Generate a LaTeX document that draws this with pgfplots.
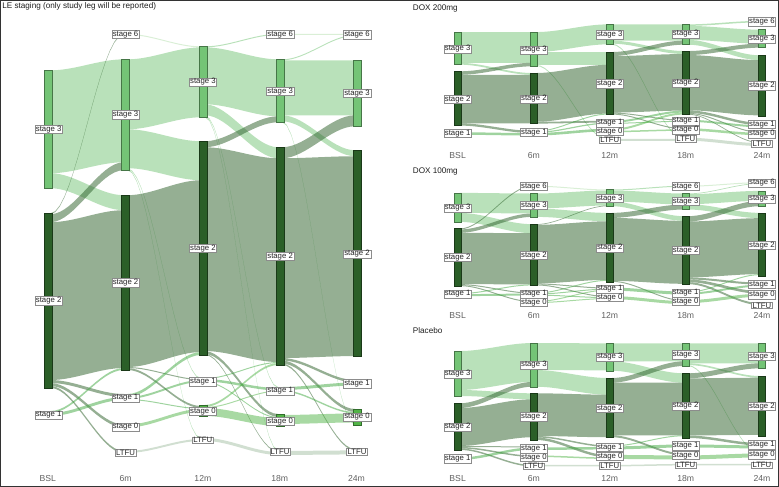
\documentclass[border=0pt]{standalone}
\usepackage{pgfplots}
\pgfplotsset{compat=1.18}
\usepackage{fontspec}
\setmainfont{Liberation Sans}
\definecolor{c6}{HTML}{B5DFAE}
\definecolor{c3}{HTML}{74C476}
\definecolor{c2}{HTML}{2B5F28}
\definecolor{c1}{HTML}{3FA83F}
\definecolor{c0}{HTML}{52B447}
\definecolor{cL}{HTML}{A3BFA3}
\def\hw{4}
% flow: x-centre left, x-centre right, top/bottom at left, top/bottom at right, colour
\newcommand\flow[7]{%
  \gdef\fpts{}%
  \foreach \i in {0,...,16}{%
    \pgfmathsetmacro\ft{\i/16}%
    \pgfmathsetmacro\fs{\ft*\ft*(3-2*\ft)}%
    \pgfmathsetmacro\fx{#1+2+(#2-#1-4)*\ft}%
    \pgfmathsetmacro\fy{#3+(#5-#3)*\fs}%
    \xdef\fpts{\fpts(\fx,\fy)}}%
  \foreach \i in {16,...,0}{%
    \pgfmathsetmacro\ft{\i/16}%
    \pgfmathsetmacro\fs{\ft*\ft*(3-2*\ft)}%
    \pgfmathsetmacro\fx{#1+2+(#2-#1-4)*\ft}%
    \pgfmathsetmacro\fy{#4+(#6-#4)*\fs}%
    \xdef\fpts{\fpts(\fx,\fy)}}%
  \edef\next{\noexpand\addplot[draw=none,fill=#7,fill opacity=0.5,forget plot] coordinates {\fpts} -- cycle;}\next}
% node bar: x-centre, top, bottom, colour
\newcommand\nb[4]{%
  \pgfmathsetmacro\bl{#1-\hw}\pgfmathsetmacro\br{#1+\hw}%
  \edef\next{\noexpand\addplot[fill=#4,draw=#4!60!black,line width=0.4pt,forget plot] coordinates {(\bl,#2)(\br,#2)(\br,#3)(\bl,#3)} -- cycle;}\next}
\pgfplotsset{
  lbl/.style={only marks, mark=text, text mark={},
    point meta=explicit symbolic, nodes near coords, forget plot,
    every node near coord/.append style={anchor=center, draw=black!45, fill=white, line width=0.4pt,
      inner xsep=1pt, inner ysep=0.6pt, font=\fontsize{7.8}{8}\selectfont, text=black!85}},
  tlbl/.style={only marks, mark=text, text mark={},
    point meta=explicit symbolic, nodes near coords, forget plot,
    every node near coord/.append style={anchor=center, inner sep=0pt,
      font=\fontsize{8.7}{9}\selectfont, text=black!62}},
  ttl/.style={only marks, mark=text, text mark={},
    point meta=explicit symbolic, nodes near coords, forget plot,
    every node near coord/.append style={anchor=west, inner sep=0pt,
      font=\fontsize{8.2}{9}\selectfont, text=black!88}},
}
\begin{document}
\begin{tikzpicture}
\begin{axis}[width=779bp,height=486bp,scale only axis,xmin=0,xmax=779,ymin=0,ymax=486,
  y dir=reverse,xtick=\empty,ytick=\empty,clip=false,
  axis line style={draw=black!80,line width=0.8pt}]
%================ LEFT PANEL ================
\def\hw{4}
% BSL -> 6m
\flow{48.3}{125.3}{70}{173}{59}{162}{c3}
\flow{48.3}{125.3}{173}{188}{195}{210}{c3}
\flow{48.3}{125.3}{213}{214}{33.5}{34.5}{c2}
\flow{48.3}{125.3}{214}{222}{162}{170}{c2}
\flow{48.3}{125.3}{222}{380}{210}{368}{c2}
\flow{48.3}{125.3}{380}{383}{394}{397}{c2}
\flow{48.3}{125.3}{383}{386}{424.5}{427.5}{c2}
\flow{48.3}{125.3}{386}{388}{451}{453}{c2}
\flow{48.3}{125.3}{411}{413}{368}{370}{c1}
\flow{48.3}{125.3}{413}{416}{397}{400}{c1}
% 6m -> 12m
\flow{125.3}{202.7}{33.5}{34.5}{46}{47}{c6}
\flow{125.3}{202.7}{59}{129}{47}{117}{c3}
\flow{125.3}{202.7}{129}{168}{141}{180}{c3}
\flow{125.3}{202.7}{168}{169}{378}{379}{c3}
\flow{125.3}{202.7}{169}{170}{438}{439}{c3}
\flow{125.3}{202.7}{195}{367}{180}{352}{c2}
\flow{125.3}{202.7}{367}{368}{379}{380}{c2}
\flow{125.3}{202.7}{368}{370}{406}{408}{c2}
\flow{125.3}{202.7}{394}{397}{352}{355}{c1}
\flow{125.3}{202.7}{397}{399}{380}{382}{c1}
\flow{125.3}{202.7}{399}{400}{408}{409}{c1}
\flow{125.3}{202.7}{424.5}{427.5}{409}{412}{c0}
\flow{125.3}{202.7}{451}{453}{439}{441}{cL}
% 12m -> 18m
\flow{202.7}{280}{46}{47}{33.5}{34.5}{c3}
\flow{202.7}{280}{47}{104}{59}{116}{c3}
\flow{202.7}{280}{104}{115}{147}{158}{c3}
\flow{202.7}{280}{115}{116}{387}{388}{c3}
\flow{202.7}{280}{116}{117}{450}{451}{c3}
\flow{202.7}{280}{141}{147}{116}{122}{c2}
\flow{202.7}{280}{147}{351}{158}{362}{c2}
\flow{202.7}{280}{351}{354}{414}{417}{c2}
\flow{202.7}{280}{354}{355}{451}{452}{c2}
\flow{202.7}{280}{378}{379}{362}{363}{c1}
\flow{202.7}{280}{379}{381.5}{388}{390.5}{c1}
\flow{202.7}{280}{381.5}{382.5}{417}{418}{c1}
\flow{202.7}{280}{405}{407}{363}{365}{c0}
\flow{202.7}{280}{407}{408}{390.5}{391.5}{c0}
\flow{202.7}{280}{408}{416}{418}{426}{c0}
\flow{202.7}{280}{438}{441}{452}{455}{cL}
% 18m -> 24m
\flow{280}{357}{33.5}{34.5}{33.5}{34.5}{c6}
\flow{280}{357}{59}{60}{34.5}{35.5}{c3}
\flow{280}{357}{60}{115}{60}{115}{c3}
\flow{280}{357}{115}{121}{150}{156}{c3}
\flow{280}{357}{121}{122}{424}{425}{c3}
\flow{280}{357}{147}{158}{115}{126}{c2}
\flow{280}{357}{158}{358}{156}{356}{c2}
\flow{280}{357}{358}{360.5}{380}{382.5}{c2}
\flow{280}{357}{360.5}{363.5}{409}{412}{c2}
\flow{280}{357}{363.5}{365}{449}{450.5}{c2}
\flow{280}{357}{387}{390}{382.5}{385.5}{c1}
\flow{280}{357}{390}{391.5}{412}{413.5}{c1}
\flow{280}{357}{415}{424}{413.5}{422.5}{c0}
\flow{280}{357}{451}{455}{450.5}{454.5}{cL}
% nodes
\nb{48.3}{70}{188}{c3}\nb{48.3}{213}{388}{c2}\nb{48.3}{411}{416}{c1}
\nb{125.3}{33.5}{34.5}{c6}\nb{125.3}{59}{170}{c3}\nb{125.3}{195}{370}{c2}\nb{125.3}{394}{400}{c1}\nb{125.3}{424.5}{427.5}{c0}\nb{125.3}{451}{453}{cL}
\nb{202.7}{46}{117}{c3}\nb{202.7}{141}{355}{c2}\nb{202.7}{378}{382.5}{c1}\nb{202.7}{405}{416}{c0}\nb{202.7}{438}{441}{cL}
\nb{280}{33.5}{34.5}{c6}\nb{280}{59}{122}{c3}\nb{280}{147}{365}{c2}\nb{280}{387}{391.5}{c1}\nb{280}{414}{426}{c0}\nb{280}{450}{455}{cL}
\nb{357}{33.5}{35.5}{c6}\nb{357}{60}{126}{c3}\nb{357}{150}{356}{c2}\nb{357}{380}{386}{c1}\nb{357}{409}{425}{c0}\nb{357}{449}{454.5}{cL}
%================ DOX 200mg ================
\def\hw{3.5}
\flow{457.7}{534}{31.7}{62.5}{31.7}{62.5}{c3}
\flow{457.7}{534}{62.5}{64.3}{72.7}{74.5}{c3}
\flow{457.7}{534}{71}{74.5}{62.5}{66}{c2}
\flow{457.7}{534}{74.5}{123}{74.5}{123}{c2}
\flow{457.7}{534}{123}{125.3}{130.5}{132.8}{c2}
\flow{457.7}{534}{132}{134.5}{132.8}{135.3}{c1}
\flow{534}{610}{31.7}{51.7}{24}{44}{c3}
\flow{534}{610}{51.7}{64.5}{51.7}{64.5}{c3}
\flow{534}{610}{64.5}{65.5}{138.5}{139.5}{c3}
\flow{534}{610}{72.7}{121.5}{64.5}{113.3}{c2}
\flow{534}{610}{121.5}{123.3}{120.5}{122.3}{c2}
\flow{534}{610}{130.5}{131.5}{113.3}{114.3}{c1}
\flow{534}{610}{131.5}{132.7}{122.3}{123.5}{c1}
\flow{534}{610}{132.7}{135.3}{128.5}{131.1}{c1}
\flow{610}{686}{24}{40.3}{24}{40.3}{c3}
\flow{610}{686}{40.3}{43.3}{50.7}{53.7}{c3}
\flow{610}{686}{43.3}{44.3}{137.5}{138.5}{c3}
\flow{610}{686}{51.7}{55.7}{40.3}{44.3}{c2}
\flow{610}{686}{55.7}{112.3}{53.7}{110.3}{c2}
\flow{610}{686}{112.3}{113.3}{119.5}{120.5}{c2}
\flow{610}{686}{113.3}{114.3}{128}{129}{c2}
\flow{610}{686}{120.5}{122.5}{110.3}{112.3}{c1}
\flow{610}{686}{122.5}{123.5}{120.5}{121.5}{c1}
\flow{610}{686}{128.5}{130.5}{112.3}{114.3}{c0}
\flow{610}{686}{130.5}{132}{129}{130.5}{c0}
\flow{610}{686}{138.5}{140.5}{138.5}{140.5}{cL}
\flow{686}{762.3}{24}{25.5}{20.5}{22}{c3}
\flow{686}{762.3}{25.5}{39.5}{29.3}{43.3}{c3}
\flow{686}{762.3}{39.5}{44.3}{55}{59.8}{c3}
\flow{686}{762.3}{50.7}{54.7}{43.3}{47.3}{c2}
\flow{686}{762.3}{54.7}{110}{59.8}{115.1}{c2}
\flow{686}{762.3}{110}{112.5}{122.5}{125}{c2}
\flow{686}{762.3}{112.5}{113.5}{131.5}{132.5}{c2}
\flow{686}{762.3}{113.5}{114.3}{142}{142.8}{c2}
\flow{686}{762.3}{119.5}{121.5}{125}{127}{c1}
\flow{686}{762.3}{128}{130.5}{132.5}{135}{c0}
\flow{686}{762.3}{137.5}{140.5}{142.8}{145.8}{cL}
\nb{457.7}{31.7}{64.3}{c3}\nb{457.7}{71}{125.3}{c2}\nb{457.7}{132}{134.5}{c1}
\nb{534}{31.7}{66}{c3}\nb{534}{72.7}{123.3}{c2}\nb{534}{130.5}{135.3}{c1}
\nb{610}{24}{44.3}{c3}\nb{610}{51.7}{114.3}{c2}\nb{610}{120.5}{123.5}{c1}\nb{610}{128.5}{132}{c0}\nb{610}{138.5}{140.5}{cL}
\nb{686}{24}{44.3}{c3}\nb{686}{50.7}{114.3}{c2}\nb{686}{119.5}{121.5}{c1}\nb{686}{128}{130.5}{c0}\nb{686}{137.5}{140.5}{cL}
\nb{762.3}{20.5}{22}{c6}\nb{762.3}{29.3}{47.3}{c3}\nb{762.3}{55}{116}{c2}\nb{762.3}{122.5}{127}{c1}\nb{762.3}{131.5}{135}{c0}\nb{762.3}{142}{145.8}{cL}
%================ DOX 100mg ================
\flow{457.7}{534}{192.7}{212.7}{193.3}{213.3}{c3}
\flow{457.7}{534}{212.7}{221.7}{224}{233}{c3}
\flow{457.7}{534}{228.3}{229.3}{185.5}{186.5}{c2}
\flow{457.7}{534}{229.3}{232.7}{213.3}{216.7}{c2}
\flow{457.7}{534}{232.7}{284}{233}{284.3}{c2}
\flow{457.7}{534}{284}{285}{292.5}{293.5}{c2}
\flow{457.7}{534}{285}{286}{301}{302}{c2}
\flow{457.7}{534}{293}{294}{284.3}{285.3}{c1}
\flow{457.7}{534}{294}{296}{293.5}{295.5}{c1}
\flow{534}{610}{185.5}{186.5}{189.3}{190.3}{c6}
\flow{534}{610}{193.3}{208.3}{190.3}{205.3}{c3}
\flow{534}{610}{208.3}{216.7}{212.7}{221.1}{c3}
\flow{534}{610}{224}{224.7}{205.3}{206}{c2}
\flow{534}{610}{224.7}{283.3}{221.1}{279.7}{c2}
\flow{534}{610}{283.3}{284.3}{287.5}{288.5}{c2}
\flow{534}{610}{284.3}{285.3}{296}{297}{c2}
\flow{534}{610}{292.5}{293.5}{279.7}{280.7}{c1}
\flow{534}{610}{293.5}{294.5}{288.5}{289.5}{c1}
\flow{534}{610}{294.5}{295.5}{297}{298}{c1}
\flow{534}{610}{301}{302}{289.5}{290.5}{c0}
\flow{534}{610}{302}{303}{298}{299}{c0}
\flow{610}{686}{189.3}{190.3}{185.5}{186.5}{c3}
\flow{610}{686}{190.3}{201.3}{193.3}{204.3}{c3}
\flow{610}{686}{201.3}{206}{216}{220.7}{c3}
\flow{610}{686}{212.7}{217.7}{204.3}{209.3}{c2}
\flow{610}{686}{217.7}{280.7}{220.7}{283.7}{c2}
\flow{610}{686}{280.7}{281.7}{300}{301}{c2}
\flow{610}{686}{287.5}{290.5}{291.5}{294.5}{c1}
\flow{610}{686}{296}{299}{301}{304}{c0}
\flow{686}{762.3}{185.5}{186.5}{182}{183}{c6}
\flow{686}{762.3}{193.3}{194}{183}{183.7}{c3}
\flow{686}{762.3}{194}{204}{190.7}{200.7}{c3}
\flow{686}{762.3}{204}{209.3}{212.7}{218}{c3}
\flow{686}{762.3}{216}{221.3}{200.7}{206}{c2}
\flow{686}{762.3}{221.3}{277.3}{218}{274}{c2}
\flow{686}{762.3}{277.3}{279.3}{282.5}{284.5}{c2}
\flow{686}{762.3}{279.3}{282}{291}{293.7}{c2}
\flow{686}{762.3}{282}{284}{303}{305}{c2}
\flow{686}{762.3}{291.5}{292.5}{274}{275}{c1}
\flow{686}{762.3}{292.5}{294.5}{284.5}{286.5}{c1}
\flow{686}{762.3}{300}{303}{293.7}{296.7}{c0}
\nb{457.7}{192.7}{221.7}{c3}\nb{457.7}{228.3}{286}{c2}\nb{457.7}{293}{296}{c1}
\nb{534}{185.5}{186.5}{c6}\nb{534}{193.3}{216.7}{c3}\nb{534}{224}{285.3}{c2}\nb{534}{292.5}{295.5}{c1}\nb{534}{301}{303}{c0}
\nb{610}{189.3}{206}{c3}\nb{610}{212.7}{281.7}{c2}\nb{610}{287.5}{290.5}{c1}\nb{610}{296}{299}{c0}
\nb{686}{185.5}{186.5}{c6}\nb{686}{193.3}{209.3}{c3}\nb{686}{216}{284}{c2}\nb{686}{291.5}{294.5}{c1}\nb{686}{300}{304}{c0}
\nb{762.3}{182}{183.7}{c6}\nb{762.3}{190.7}{206}{c3}\nb{762.3}{212.7}{276}{c2}\nb{762.3}{282.5}{286.5}{c1}\nb{762.3}{291}{296.7}{c0}\nb{762.3}{303}{305}{cL}
%================ Placebo ================
\flow{457.7}{534}{351}{390}{343}{382}{c3}
\flow{457.7}{534}{390}{396}{393.3}{399.3}{c3}
\flow{457.7}{534}{403.3}{408}{382}{386.7}{c2}
\flow{457.7}{534}{408}{446}{399.3}{437.3}{c2}
\flow{457.7}{534}{446}{447}{446.5}{447.5}{c2}
\flow{457.7}{534}{447}{448.5}{455.5}{457}{c2}
\flow{457.7}{534}{448.5}{450}{465}{466.5}{c2}
\flow{457.7}{534}{457.5}{460}{447.5}{450}{c1}
\flow{534}{610}{343}{370}{343.3}{370.3}{c3}
\flow{534}{610}{370}{386.7}{378}{394.7}{c3}
\flow{534}{610}{393.3}{436}{394.7}{437.3}{c2}
\flow{534}{610}{436}{437.5}{445.5}{447}{c2}
\flow{534}{610}{437.5}{440}{455}{457.5}{c2}
\flow{534}{610}{447.5}{450}{447}{449.5}{c1}
\flow{534}{610}{455.5}{457}{457.5}{459}{c0}
\flow{534}{610}{465}{466.5}{465}{466.5}{cL}
\flow{610}{686}{343.3}{361.3}{343.3}{361.3}{c3}
\flow{610}{686}{361.3}{370.7}{373.3}{382.7}{c3}
\flow{610}{686}{378}{382.7}{361.3}{366}{c2}
\flow{610}{686}{382.7}{435.3}{382.7}{435.3}{c2}
\flow{610}{686}{435.3}{437.3}{453.5}{455.5}{c2}
\flow{610}{686}{445.5}{446.5}{435.3}{436.3}{c1}
\flow{610}{686}{446.5}{449.5}{444.5}{447.5}{c1}
\flow{610}{686}{455}{459}{455.5}{459.5}{c0}
\flow{610}{686}{465}{466.5}{464}{465.5}{cL}
\flow{686}{762.3}{343.3}{363.3}{343.3}{363.3}{c3}
\flow{686}{762.3}{363.3}{365}{376}{377.7}{c3}
\flow{686}{762.3}{365}{366}{452.5}{453.5}{c3}
\flow{686}{762.3}{373.3}{378.3}{363.3}{368.3}{c2}
\flow{686}{762.3}{378.3}{435.5}{377.7}{434.9}{c2}
\flow{686}{762.3}{435.5}{438}{443}{445.5}{c2}
\flow{686}{762.3}{444.5}{447.5}{445.5}{448.5}{c1}
\flow{686}{762.3}{455.5}{459.5}{453.5}{457.5}{c0}
\flow{686}{762.3}{464}{465.5}{464}{465.5}{cL}
\nb{457.7}{351}{396}{c3}\nb{457.7}{403.3}{450}{c2}\nb{457.7}{457.5}{460}{c1}
\nb{534}{343}{386.7}{c3}\nb{534}{393.3}{440}{c2}\nb{534}{446.5}{450}{c1}\nb{534}{455.5}{457}{c0}\nb{534}{465}{466.5}{cL}
\nb{610}{343.3}{370.7}{c3}\nb{610}{378}{437.3}{c2}\nb{610}{445.5}{449.5}{c1}\nb{610}{455}{459}{c0}\nb{610}{464.5}{466.5}{cL}
\nb{686}{343.3}{366}{c3}\nb{686}{373.3}{438}{c2}\nb{686}{444.5}{447.5}{c1}\nb{686}{453.5}{459.5}{c0}\nb{686}{464}{466}{cL}
\nb{762.3}{343.3}{368.3}{c3}\nb{762.3}{376}{436.7}{c2}\nb{762.3}{443}{448.5}{c1}\nb{762.3}{452.5}{457.5}{c0}\nb{762.3}{464}{465.5}{cL}
%================ labels ================
\addplot[lbl] coordinates {
(48.3,129)[stage 3] (48.3,300.5)[stage 2] (48.3,415)[stage 1]
(125.3,34)[stage 6] (125.3,114.5)[stage 3] (125.3,282.5)[stage 2] (125.3,398)[stage 1] (125.3,427)[stage 0] (125.3,452.7)[LTFU]
(202.7,81.5)[stage 3] (202.7,248)[stage 2] (202.7,381.7)[stage 1] (202.7,411.3)[stage 0] (202.7,440.3)[LTFU]
(280,34)[stage 6] (280,91)[stage 3] (280,256)[stage 2] (280,391)[stage 1] (280,421.3)[stage 0] (280,452)[LTFU]
(357,34.3)[stage 6] (357,93)[stage 3] (357,253.7)[stage 2] (357,383.7)[stage 1] (357,417)[stage 0] (357,451.7)[LTFU]
};
\addplot[lbl] coordinates {
(457.7,48.7)[stage 3] (457.7,99)[stage 2] (457.7,133.3)[stage 1]
(534,49.7)[stage 3] (534,98.7)[stage 2] (534,132.3)[stage 1]
(610,34.3)[stage 3] (610,83.3)[stage 2] (610,122.7)[stage 1] (610,131)[stage 0] (610,140)[LTFU]
(686,33.7)[stage 3] (686,82.7)[stage 2] (686,120.7)[stage 1] (686,129.7)[stage 0] (686,138.7)[LTFU]
(762.3,21.3)[stage 6] (762.3,38.7)[stage 3] (762.3,85.3)[stage 2] (762.3,124)[stage 1] (762.3,133.7)[stage 0] (762.3,143.3)[LTFU]
};
\addplot[lbl] coordinates {
(457.7,207.7)[stage 3] (457.7,257.3)[stage 2] (457.7,294)[stage 1]
(534,186)[stage 6] (534,205)[stage 3] (534,255)[stage 2] (534,293.7)[stage 1] (534,302.3)[stage 0]
(610,198.3)[stage 3] (610,247.7)[stage 2] (610,289)[stage 1] (610,297.3)[stage 0]
(686,186)[stage 6] (686,201.3)[stage 3] (686,250.3)[stage 2] (686,292.7)[stage 1] (686,301.3)[stage 0]
(762.3,182.7)[stage 6] (762.3,198.7)[stage 3] (762.3,245)[stage 2] (762.3,284.3)[stage 1] (762.3,294.7)[stage 0] (762.3,305.3)[LTFU]
};
\addplot[lbl] coordinates {
(457.7,374)[stage 3] (457.7,427)[stage 2] (457.7,458.7)[stage 1]
(534,365)[stage 3] (534,416.7)[stage 2] (534,448.7)[stage 1] (534,457.3)[stage 0] (534,466.3)[LTFU]
(610,357)[stage 3] (610,408.3)[stage 2] (610,447.3)[stage 1] (610,456.3)[stage 0] (610,465.7)[LTFU]
(686,354.7)[stage 3] (686,406)[stage 2] (686,445.7)[stage 1] (686,455.3)[stage 0] (686,465.3)[LTFU]
(762.3,356.3)[stage 3] (762.3,406.3)[stage 2] (762.3,444.7)[stage 1] (762.3,454.7)[stage 0] (762.3,465.3)[LTFU]
};
% time-point labels
\addplot[tlbl] coordinates {
(47.5,479)[BSL] (125.3,479)[6m] (202.7,479)[12m] (279.6,479)[18m] (356.5,479)[24m]
(457.7,155.7)[BSL] (534,155.7)[6m] (610,155.7)[12m] (686,155.7)[18m] (762.3,155.7)[24m]
(457.7,315.7)[BSL] (534,315.7)[6m] (610,315.7)[12m] (686,315.7)[18m] (762.3,315.7)[24m]
(457.7,479)[BSL] (534,479)[6m] (610,479)[12m] (686,479)[18m] (762.3,479)[24m]
};
% panel titles
\addplot[ttl] coordinates {
(1.7,5.7)[LE staging (only study leg will be reported)]
(412.7,8.3)[DOX 200mg] (412.7,171)[DOX 100mg] (412.7,330.7)[Placebo]
};
\end{axis}
\end{tikzpicture}
\end{document}
